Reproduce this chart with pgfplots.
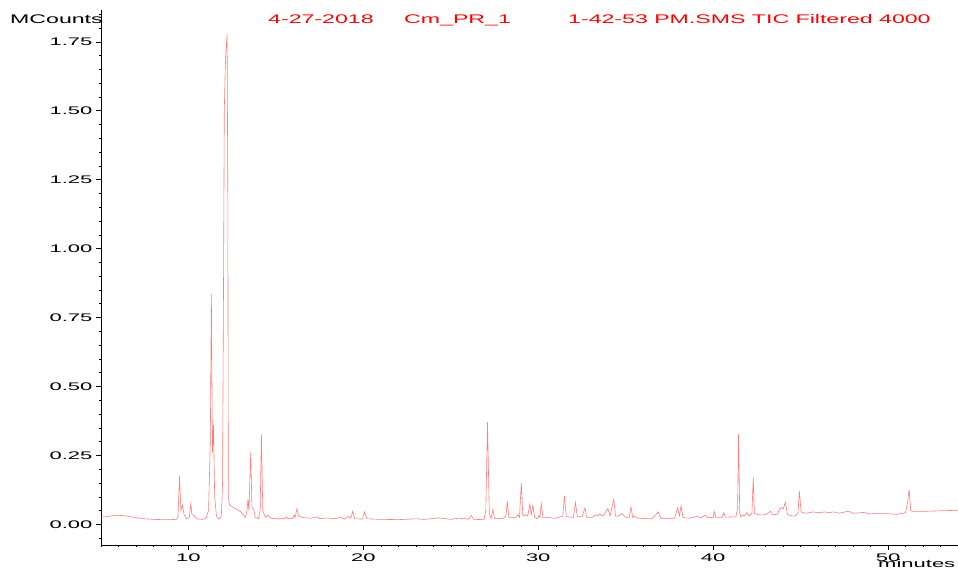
\documentclass[border=0pt]{standalone}
\usepackage{fontspec}
\setmainfont{Liberation Sans}
\newfontfamily\wideA[FakeStretch=1.85]{Liberation Sans}
\newfontfamily\wideB[FakeStretch=2.0]{Liberation Sans}
\usepackage{pgfplots}
\pgfplotsset{compat=1.18}
\definecolor{trace}{RGB}{255,125,125}
\pgfplotstableread{
t v
5.0 0.025
5.5 0.030
6.0 0.033
6.5 0.030
7.0 0.024
7.5 0.020
8.0 0.018
8.5 0.017
9.0 0.017
9.3 0.018
9.40 0.025
9.49 0.174
9.57 0.05
9.66 0.069
9.75 0.035
9.9 0.02
10.05 0.025
10.13 0.073
10.2 0.035
10.3 0.033
10.45 0.02
10.8 0.018
11.0 0.022
11.15 0.05
11.25 0.3
11.31 0.835
11.37 0.26
11.43 0.36
11.5 0.1
11.6 0.03
11.75 0.018
11.88 0.03
11.95 0.15
12.0 0.8
12.05 1.5
12.1 1.65
12.15 1.72
12.21 1.777
12.25 1.2
12.28 0.1
12.35 0.07
12.6 0.06
13.0 0.045
13.26 0.025
13.35 0.05
13.4 0.09
13.46 0.05
13.56 0.26
13.63 0.06
13.73 0.056
13.82 0.025
14.0 0.02
14.1 0.05
14.17 0.327
14.25 0.05
14.4 0.025
14.55 0.033
14.7 0.022
15.0 0.02
15.5 0.02
15.6 0.027
15.7 0.02
15.95 0.022
16.03 0.033
16.1 0.025
16.2 0.057
16.3 0.03
16.5 0.025
17.0 0.022
17.35 0.027
17.5 0.021
18.0 0.023
18.3 0.02
18.7 0.025
18.9 0.019
19.15 0.028
19.28 0.022
19.39 0.047
19.5 0.02
19.95 0.019
20.06 0.045
20.2 0.02
21 0.018
22 0.017
23 0.02
23.5 0.018
24.36 0.023
25 0.018
25.5 0.023
25.6 0.019
25.7 0.022
26.0 0.018
26.17 0.033
26.3 0.018
26.9 0.017
27.0 0.05
27.1 0.37
27.2 0.04
27.3 0.02
27.41 0.053
27.5 0.02
28.0 0.022
28.15 0.03
28.23 0.083
28.32 0.025
28.7 0.025
28.84 0.035
28.93 0.025
29.03 0.15
29.12 0.03
29.31 0.035
29.4 0.03
29.52 0.073
29.6 0.035
29.69 0.068
29.8 0.025
29.95 0.02
30.03 0.031
30.1 0.025
30.17 0.076
30.27 0.025
30.5 0.025
31.0 0.022
31.3 0.028
31.4 0.03
31.5 0.103
31.6 0.028
32.0 0.025
32.13 0.079
32.23 0.028
32.5 0.028
32.67 0.059
32.77 0.025
33.1 0.025
33.3 0.035
33.4 0.03
33.5 0.037
33.7 0.03
33.98 0.057
34.1 0.03
34.32 0.09
34.42 0.03
34.6 0.03
34.78 0.039
35.0 0.025
35.2 0.025
35.3 0.063
35.4 0.025
35.5 0.03
35.7 0.022
36.5 0.02
36.87 0.045
37.0 0.022
37.8 0.022
37.97 0.06
38.07 0.03
38.17 0.068
38.27 0.025
38.6 0.022
39.1 0.029
39.3 0.024
39.54 0.033
39.7 0.024
40.0 0.025
40.06 0.047
40.15 0.025
40.5 0.025
40.61 0.042
40.7 0.026
41.3 0.027
41.4 0.06
41.45 0.326
41.52 0.04
41.6 0.027
41.71 0.033
41.8 0.03
41.93 0.043
42.05 0.03
42.22 0.04
42.29 0.17
42.36 0.04
42.5 0.036
42.7 0.034
43.0 0.035
43.27 0.047
43.4 0.035
43.67 0.036
43.8 0.055
43.9 0.06
44.0 0.055
44.13 0.079
44.25 0.035
44.47 0.031
44.7 0.03
44.85 0.04
44.93 0.12
45.03 0.045
45.3 0.04
45.7 0.045
46.0 0.042
46.4 0.045
46.6 0.042
46.9 0.045
47.2 0.04
47.74 0.048
48.0 0.04
48.6 0.043
49.0 0.038
49.9 0.039
50.5 0.036
51.0 0.042
51.12 0.08
51.2 0.126
51.3 0.05
51.45 0.047
52 0.047
53 0.049
54 0.051
}\tic
\begin{document}
\begin{tikzpicture}[x=1pt,y=1pt]
\path[use as bounding box] (0,0) rectangle (958,569);
\begin{axis}[
  at={(101pt,24pt)}, anchor=south west,
  scale only axis, width=857pt, height=535pt,
  xmin=5, xmax=54, ymin=-0.075, ymax=1.865,
  axis lines=left,
  axis line style={-, black, line width=0.5pt},
  clip=false,
  xtick={10,20,30,40,50},
  ytick={0,0.25,0.5,0.75,1,1.25,1.5,1.75},
  minor xtick={5,6,...,54},
  minor ytick={-0.05,0,0.05,0.1,0.15,0.2,0.25,0.3,0.35,0.4,0.45,0.5,0.55,0.6,0.65,0.7,0.75,0.8,0.85,0.9,0.95,1,1.05,1.1,1.15,1.2,1.25,1.3,1.35,1.4,1.45,1.5,1.55,1.6,1.65,1.7,1.75,1.8,1.85},
  tick align=outside,
  major tick length=5pt, minor tick length=2.5pt,
  tick style={black, line width=0.4pt},
  /pgf/number format/assume math mode=true,
  ticklabel style={font=\wideB\fontsize{11}{13}\selectfont, text=black},
  yticklabel style={/pgf/number format/fixed, /pgf/number format/fixed zerofill, /pgf/number format/precision=2},
  xticklabel style={/pgf/number format/fixed},
]
\addplot[trace, line width=0.6pt, no marks] table[x=t, y=v] {\tic};
\end{axis}
\node[anchor=base west, inner sep=0pt, font=\wideA\fontsize{12.5}{14}\selectfont] at (10,545) {MCounts};
\node[anchor=base west, inner sep=0pt, text=red, font=\wideA\fontsize{12.5}{14}\selectfont] at (268,545) {4-27-2018};
\node[anchor=base west, inner sep=0pt, text=red, font=\wideA\fontsize{12.5}{14}\selectfont] at (404,545) {Cm\_PR\_1};
\node[anchor=base west, inner sep=0pt, text=red, font=\wideA\fontsize{12.5}{14}\selectfont] at (568,545) {1-42-53 PM.SMS TIC Filtered 4000};
\node[anchor=base west, inner sep=0pt, font=\wideB\fontsize{11}{13}\selectfont] at (878,1.5) {minutes};
\end{tikzpicture}
\end{document}
